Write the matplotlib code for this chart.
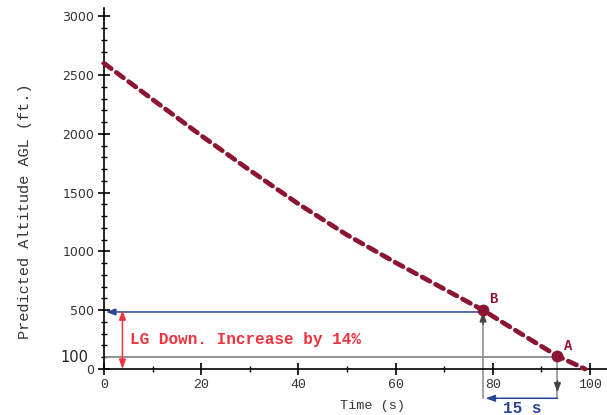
import matplotlib
matplotlib.use("Agg")
import matplotlib.pyplot as plt
from matplotlib.ticker import MultipleLocator

# predicted altitude profile
time_s = [0, 10, 20, 30, 40, 50, 60, 70, 78, 85, 93.3, 99]
alt_ft = [2600, 2292, 1985, 1690, 1404, 1140, 905, 680, 500, 320, 110, 0]

point_B = (78, 500)
point_A = (93.3, 110)
y_ticks = [0, 500, 1000, 1500, 2000, 2500, 3000]
x_ticks = [0, 20, 40, 60, 80, 100]

mono = "Liberation Mono"
curve_col = "#8c1532"
blue = "#2b4596"
gray = "#8a8a8a"
dark = "#444444"
red = "#ee3340"

fig = plt.figure(figsize=(6.07, 4.15), dpi=100)
ax = fig.add_axes([104/607, 46/415, 503/607, 361/415])

ax.plot(time_s, alt_ft, color=curve_col, lw=3.4, ls=(0, (1.9, 1.35)),
        dash_capstyle="round", zorder=3, clip_on=False)
ax.plot(*point_B, "o", color=curve_col, ms=7.5, zorder=4, clip_on=False)
ax.plot(*point_A, "o", color=curve_col, ms=7.5, zorder=4, clip_on=False)
ax.text(point_B[0] + 1.3, point_B[1] + 40, "B", color=curve_col, fontsize=10,
        fontweight="bold", family=mono, va="bottom")
ax.text(point_A[0] + 1.3, point_A[1] + 30, "A", color=curve_col, fontsize=10,
        fontweight="bold", family=mono, va="bottom")

head = "-|>,head_length=0.55,head_width=0.2"

# reference lines
ax.annotate("", xy=(0.4, 485), xytext=(point_B[0], 485),
            arrowprops=dict(arrowstyle=head, color=blue, lw=1.1,
                            shrinkA=0, shrinkB=0),
            annotation_clip=False)
ax.plot([0, point_A[0]], [100, 100], color=gray, lw=1.3, zorder=2)

# LG down arrow + text
ax.annotate("", xy=(3.8, 500), xytext=(3.8, 0),
            arrowprops=dict(arrowstyle="<|-|>,head_length=0.55,head_width=0.2",
                            color=red, lw=1.1, shrinkA=0, shrinkB=0),
            annotation_clip=False)
ax.text(5.3, 250, "LG Down. Increase by 14%", color=red, fontsize=11.5,
        fontweight="bold", family=mono, va="center")

# time difference arrows
y_low = -249
ax.plot([point_B[0], point_B[0]], [y_low, 485], color=gray, lw=1.1, clip_on=False)
ax.annotate("", xy=(point_B[0], 485), xytext=(point_B[0], 380),
            arrowprops=dict(arrowstyle=head, color=dark, lw=1.1,
                            shrinkA=0, shrinkB=0),
            annotation_clip=False)
ax.plot([point_A[0], point_A[0]], [point_A[1], y_low], color=gray, lw=1.1,
        clip_on=False)
ax.annotate("", xy=(point_A[0], -200), xytext=(point_A[0], -100),
            arrowprops=dict(arrowstyle=head, color=dark, lw=1.1,
                            shrinkA=0, shrinkB=0),
            annotation_clip=False)
ax.annotate("", xy=(point_B[0] + 0.5, y_low), xytext=(point_A[0], y_low),
            arrowprops=dict(arrowstyle=head, color=blue, lw=1.1,
                            shrinkA=0, shrinkB=0),
            annotation_clip=False)
ax.text(86, -375, "15 s", color=blue, fontsize=11.5, fontweight="bold",
        family=mono, ha="center", va="baseline", clip_on=False)

# axes styling
ax.set_xlim(0, 103.5)
ax.set_ylim(0, 3070)
for s in ["top", "right"]:
    ax.spines[s].set_visible(False)
for s in ["left", "bottom"]:
    ax.spines[s].set_linewidth(1.2)
ax.set_xticks(x_ticks)
ax.set_yticks(y_ticks)
ax.xaxis.set_minor_locator(MultipleLocator(10))
ax.yaxis.set_minor_locator(MultipleLocator(100))
ax.tick_params(which="major", direction="inout", length=8, width=1.2, pad=3)
ax.tick_params(which="minor", direction="inout", length=4, width=1.0)
for lab in ax.get_xticklabels():
    lab.set_family(mono)
    lab.set_fontsize(9.5)
    lab.set_color("#333333")
for lab in ax.get_yticklabels():
    lab.set_fontsize(9)
    lab.set_color("#333333")

ax.text(-3.3, 100, "100", fontsize=10.5, color="#222222", ha="right",
        va="center", clip_on=False)

fig.text(25/607, 1 - 211/415, "Predicted Altitude AGL (ft.)", rotation=90,
         family=mono, fontsize=11, color="#333333", ha="center", va="center")
fig.text(372/607, 1 - 406/415, "Time (s)", family=mono, fontsize=9.7,
         color="#333333", ha="center", va="center")

fig.savefig("out.png", dpi=100)
